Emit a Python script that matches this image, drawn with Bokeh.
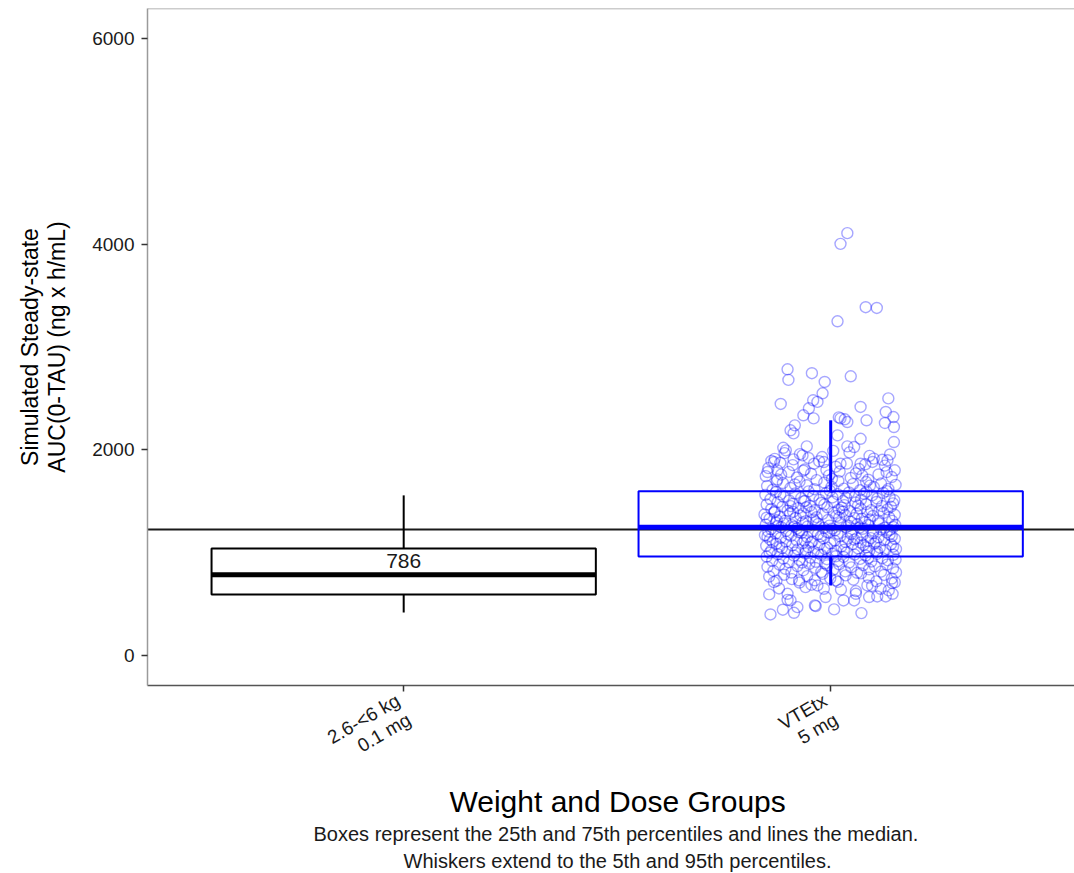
import math
from bokeh.plotting import figure
from bokeh.models import Span, Label, FixedTicker, Title
from bokeh.embed import file_html
from bokeh.resources import INLINE

# ---------------- data ----------------
groups = ["2.6-<6 kg\n0.1 mg", "VTEtx\n5 mg"]
group_x = [1, 2]
group_colors = ["#000000", "#0000FF"]
p05 = [418, 681]
p25 = [594, 963]
p50 = [786, 1246]
p75 = [1041, 1596]
p95 = [1557, 2287]
ref_auc = [1225]
y_ticks = [0, 2000, 4000, 6000]

# individual simulated AUC values for VTEtx group: (jitter offset, AUC)
vte_obs = [
    # upper tail
    (0.039, 4107), (0.023, 4003), (0.082, 3387), (0.108, 3380), (0.016, 3250),
    (-0.101, 2783), (-0.099, 2680), (-0.044, 2745), (-0.014, 2660), (0.047, 2715),
    (-0.019, 2550), (0.135, 2500), (-0.117, 2446), (0.070, 2417), (-0.041, 2482),
    (-0.031, 2466), (-0.051, 2404), (-0.064, 2336), (0.129, 2368), (0.147, 2319),
    (0.019, 2316), (0.033, 2297), (0.084, 2287), (-0.040, 2306), (0.023, 2306),
    (0.039, 2270), (0.127, 2261), (0.148, 2222), (-0.094, 2190), (-0.084, 2238),
    (-0.087, 2160), (-0.056, 2034), (-0.111, 2020), (-0.105, 1995), (0.016, 2141),
    (0.055, 2027), (0.070, 2107), (0.039, 2034), (0.148, 2076), (-0.133, 1881),
    (-0.087, 1907), (-0.066, 1946), (-0.039, 1865), (-0.016, 1881), (0.023, 1865),
    (0.070, 1865), (0.101, 1914), (0.133, 1898), (-0.148, 1784), (-0.125, 1800),
    # 1900-2000
    (-0.131, 1912), (-0.072, 1958), (-0.020, 1930), (0.044, 1975), (0.091, 1941),
    (0.121, 1903), (-0.108, 1968), (0.006, 1990), (0.139, 1955), (-0.052, 1921),
    # 1800-1900
    (-0.146, 1822), (-0.118, 1874), (-0.089, 1851), (-0.061, 1808), (-0.027, 1889),
    (0.012, 1836), (0.038, 1867), (0.066, 1814), (0.098, 1882), (0.127, 1846),
    (0.150, 1801), (-0.010, 1803), (0.081, 1859), (-0.139, 1893),
    # 1700-1800
    (-0.152, 1744), (-0.125, 1712), (-0.098, 1786), (-0.079, 1731), (-0.046, 1768),
    (-0.033, 1705), (-0.004, 1752), (0.021, 1789), (0.047, 1726), (0.059, 1771),
    (0.088, 1709), (0.112, 1760), (0.143, 1735), (0.131, 1783), (-0.116, 1759),
    (0.003, 1718), (0.074, 1749), (-0.064, 1797),
    # 1600-1700
    (-0.149, 1648), (-0.136, 1611), (-0.112, 1677), (-0.094, 1629), (-0.073, 1691),
    (-0.056, 1655), (-0.038, 1617), (-0.015, 1682), (0.002, 1640), (0.018, 1698),
    (0.031, 1623), (0.052, 1666), (0.069, 1607), (0.083, 1687), (0.101, 1638),
    (0.118, 1672), (0.135, 1619), (0.152, 1659), (-0.127, 1694), (-0.002, 1603),
    (0.092, 1652), (-0.084, 1663),
    # 1500-1600
    (-0.153, 1562), (-0.141, 1521), (-0.128, 1589), (-0.110, 1543), (-0.097, 1507),
    (-0.083, 1575), (-0.069, 1531), (-0.052, 1596), (-0.041, 1552), (-0.026, 1513),
    (-0.011, 1578), (0.004, 1537), (0.016, 1569), (0.029, 1502), (0.043, 1585),
    (0.057, 1548), (0.071, 1516), (0.084, 1593), (0.097, 1557), (0.109, 1526),
    (0.123, 1581), (0.138, 1541), (0.149, 1509), (-0.118, 1566), (-0.060, 1504),
    (0.036, 1533), (0.078, 1571), (0.131, 1598),
    # 1400-1500
    (-0.150, 1468), (-0.139, 1425), (-0.124, 1491), (-0.113, 1447), (-0.101, 1409),
    (-0.088, 1476), (-0.076, 1433), (-0.063, 1499), (-0.049, 1456), (-0.037, 1412),
    (-0.022, 1483), (-0.008, 1441), (0.006, 1495), (0.019, 1418), (0.032, 1462),
    (0.045, 1404), (0.058, 1487), (0.070, 1429), (0.083, 1471), (0.095, 1414),
    (0.107, 1493), (0.120, 1452), (0.133, 1421), (0.146, 1479), (-0.131, 1402),
    (-0.057, 1441), (-0.015, 1468), (0.026, 1437), (0.064, 1458), (0.114, 1406),
    (0.141, 1447), (-0.094, 1452),
    # 1300-1400
    (-0.155, 1372), (-0.143, 1328), (-0.132, 1391), (-0.119, 1351), (-0.107, 1309),
    (-0.095, 1383), (-0.082, 1337), (-0.071, 1362), (-0.058, 1306), (-0.045, 1395),
    (-0.033, 1345), (-0.019, 1377), (-0.006, 1318), (0.008, 1388), (0.020, 1341),
    (0.034, 1367), (0.047, 1302), (0.061, 1379), (0.073, 1331), (0.086, 1394),
    (0.099, 1357), (0.111, 1314), (0.124, 1386), (0.137, 1343), (0.150, 1368),
    (-0.126, 1315), (-0.088, 1397), (-0.040, 1323), (0.013, 1356), (0.055, 1336),
    (0.092, 1322), (0.144, 1309), (-0.150, 1340), (-0.064, 1382), (0.028, 1398),
    # 1200-1300
    (-0.152, 1273), (-0.140, 1229), (-0.128, 1291), (-0.116, 1247), (-0.104, 1212),
    (-0.091, 1268), (-0.079, 1236), (-0.066, 1294), (-0.054, 1255), (-0.042, 1208),
    (-0.029, 1279), (-0.016, 1241), (-0.003, 1263), (0.010, 1217), (0.023, 1287),
    (0.036, 1248), (0.049, 1203), (0.062, 1276), (0.075, 1232), (0.088, 1269),
    (0.100, 1214), (0.113, 1285), (0.126, 1243), (0.139, 1221), (0.151, 1271),
    (-0.146, 1204), (-0.110, 1283), (-0.072, 1218), (-0.035, 1296), (0.003, 1234),
    (0.042, 1261), (0.081, 1298), (0.118, 1226), (0.147, 1249), (-0.085, 1252),
    (-0.010, 1201), (0.068, 1244), (-0.123, 1260),
    # 1100-1200
    (-0.154, 1171), (-0.142, 1128), (-0.129, 1186), (-0.117, 1145), (-0.105, 1107),
    (-0.093, 1164), (-0.080, 1123), (-0.068, 1192), (-0.055, 1151), (-0.043, 1109),
    (-0.030, 1177), (-0.017, 1138), (-0.004, 1195), (0.009, 1116), (0.022, 1158),
    (0.035, 1102), (0.048, 1181), (0.061, 1139), (0.074, 1169), (0.087, 1112),
    (0.099, 1187), (0.112, 1148), (0.125, 1121), (0.138, 1176), (0.150, 1133),
    (-0.136, 1104), (-0.099, 1179), (-0.061, 1118), (-0.023, 1159), (0.016, 1184),
    (0.055, 1127), (0.094, 1141), (0.131, 1198), (-0.148, 1155), (-0.075, 1199),
    (0.040, 1136), (0.106, 1103), (0.143, 1160),
    # 1000-1100
    (-0.151, 1066), (-0.139, 1023), (-0.127, 1087), (-0.114, 1045), (-0.102, 1008),
    (-0.090, 1071), (-0.077, 1032), (-0.065, 1094), (-0.052, 1054), (-0.040, 1012),
    (-0.027, 1079), (-0.014, 1037), (-0.001, 1091), (0.012, 1018), (0.025, 1062),
    (0.038, 1004), (0.051, 1083), (0.064, 1041), (0.077, 1075), (0.090, 1015),
    (0.102, 1089), (0.115, 1049), (0.128, 1026), (0.141, 1081), (0.153, 1035),
    (-0.120, 1059), (-0.083, 1002), (-0.046, 1097), (-0.008, 1049), (0.031, 1027),
    (0.070, 1098), (0.109, 1009), (0.146, 1058), (-0.058, 1025), (0.083, 1052),
    # 900-1000
    (-0.150, 962), (-0.137, 921), (-0.124, 985), (-0.111, 943), (-0.098, 906),
    (-0.086, 971), (-0.073, 929), (-0.060, 993), (-0.048, 952), (-0.035, 911),
    (-0.022, 978), (-0.009, 936), (0.004, 989), (0.017, 917), (0.030, 958),
    (0.043, 903), (0.056, 981), (0.069, 939), (0.082, 972), (0.095, 914),
    (0.108, 987), (0.121, 946), (0.134, 925), (0.147, 979), (-0.143, 998),
    (-0.067, 904), (0.012, 965), (0.088, 949), (0.152, 933), (-0.030, 995),
    # 800-900
    (-0.148, 861), (-0.134, 822), (-0.120, 883), (-0.106, 843), (-0.092, 807),
    (-0.078, 869), (-0.064, 829), (-0.050, 891), (-0.036, 851), (-0.022, 812),
    (-0.008, 876), (0.006, 836), (0.020, 887), (0.034, 818), (0.048, 857),
    (0.062, 804), (0.076, 879), (0.090, 838), (0.104, 866), (0.118, 815),
    (0.132, 884), (0.146, 846), (0.153, 809), (-0.013, 897),
    # 700-800
    (-0.144, 768), (-0.127, 726), (-0.109, 785), (-0.091, 743), (-0.073, 709),
    (-0.055, 772), (-0.037, 731), (-0.019, 794), (-0.001, 751), (0.017, 716),
    (0.035, 779), (0.053, 737), (0.071, 798), (0.089, 757), (0.107, 721),
    (0.125, 783), (0.143, 748), (0.150, 712),
    # 600-700
    (-0.121, 652), (-0.045, 688), (0.024, 641), (0.097, 676), (0.136, 633),
    # lower tail
    (-0.144, 594), (-0.101, 600), (-0.094, 535), (-0.112, 445), (-0.141, 399),
    (-0.086, 415), (-0.078, 470), (-0.035, 480), (-0.012, 568), (0.008, 448),
    (0.030, 535), (0.055, 535), (0.059, 600), (0.072, 412), (0.090, 568),
    (0.109, 574), (0.129, 574), (-0.133, 713), (-0.059, 665), (-0.016, 649),
    (0.086, 681), (0.117, 649), (0.144, 704), (-0.101, 541), (-0.037, 487),
    (0.059, 626), (-0.031, 681), (0.012, 730), (-0.074, 730), (0.145, 600),
]

x_title = "Weight and Dose Groups"
y_title = "Simulated Steady-state\nAUC(0-TAU) (ng x h/mL)"
caption = ["Boxes represent the 25th and 75th percentiles and lines the median.",
           "Whiskers extend to the 5th and 95th percentiles."]

# ---------------- plot ----------------
FONT = "Liberation Sans"
half_w = 0.45
x_lo, x_hi = 0.4, 2.571
y_lo, y_hi = -292, 6292

p = figure(frame_width=927, frame_height=677, x_range=(x_lo, x_hi), y_range=(y_lo, y_hi),
           output_backend="svg", toolbar_location=None,
           min_border_left=147, min_border_right=0, min_border_top=8,
           min_border_bottom=187)
p.grid.visible = False
p.outline_line_color = None
p.background_fill_color = "white"

# top border of panel
p.add_layout(Span(location=y_hi, dimension="width", line_color="#9a9a9a", line_width=1.5))

# reference line
p.add_layout(Span(location=ref_auc[0], dimension="width", line_color="#1a1a1a",
                  line_width=2, level="underlay"))

# jittered individual points
vx = [group_x[1] + d for d, _ in vte_obs]
vy = [a for _, a in vte_obs]
p.scatter(vx, vy, size=11, marker="circle", fill_color=None, line_color="#0000FF",
          line_alpha=0.35, line_width=1.4)

left = [g - half_w for g in group_x]
right = [g + half_w for g in group_x]

# whiskers
p.segment(x0=group_x, y0=p75, x1=group_x, y1=p95, line_color=group_colors, line_width=[2, 3])
p.segment(x0=group_x, y0=p05, x1=group_x, y1=p25, line_color=group_colors, line_width=[2, 3])
# boxes
p.quad(left=left, right=right, bottom=p25, top=p75, fill_color=None,
       line_color=group_colors, line_width=2)
# medians
p.segment(x0=left, y0=p50, x1=right, y1=p50, line_color=group_colors, line_width=5)

# median label for first group
p.add_layout(Label(x=group_x[0], y=p50[0], text=str(p50[0]), y_offset=7,
                   text_align="center", text_baseline="bottom",
                   text_font=FONT, text_font_size="21px", text_color="#1a1a1a"))

# axes
p.yaxis.ticker = FixedTicker(ticks=y_ticks)
p.xaxis.ticker = FixedTicker(ticks=group_x)

for ax in (p.xaxis[0], p.yaxis[0]):
    ax.minor_tick_line_color = None
    ax.major_tick_in = 0
    ax.major_tick_out = 6
    ax.major_tick_line_color = "#333333"
    ax.major_tick_line_width = 1.5
    ax.major_label_text_font = FONT
    ax.major_label_text_font_size = "19px"
    ax.major_label_text_color = "#1a1a1a"
    ax.axis_label_text_font = FONT
    ax.axis_label_text_font_style = "normal"
    ax.axis_label_text_color = "#000000"

p.yaxis.axis_line_color = "#9a9a9a"
p.yaxis.axis_line_width = 1.5
p.yaxis.major_label_standoff = 7
p.yaxis.axis_label = y_title
p.yaxis.axis_label_text_font_size = "23px"
p.yaxis.axis_label_text_line_height = 1.05
p.yaxis.axis_label_standoff = 19

p.xaxis.axis_line_color = "#555555"
p.xaxis.axis_line_width = 1.5
p.xaxis.major_label_standoff = 17
p.xaxis.major_label_orientation = math.pi / 6
p.xaxis.major_label_text_line_height = 1.05
p.xaxis.major_label_overrides = {gx: name for gx, name in zip(group_x, groups)}

# x title and caption, centred where the original panel centre lies
p.add_layout(Title(text=x_title, align="left", offset=302, standoff=-12,
                   text_font=FONT, text_font_size="30px", text_font_style="normal",
                   text_color="#000000"), "below")
p.add_layout(Title(text=caption[0], align="left", offset=166, standoff=18,
                   text_font=FONT, text_font_size="20px", text_font_style="normal",
                   text_color="#1a1a1a"), "below")
p.add_layout(Title(text=caption[1], align="left", offset=256, standoff=-11,
                   text_font=FONT, text_font_size="20px", text_font_style="normal",
                   text_color="#1a1a1a"), "below")

open("out.html", "w").write(file_html(p, INLINE))
